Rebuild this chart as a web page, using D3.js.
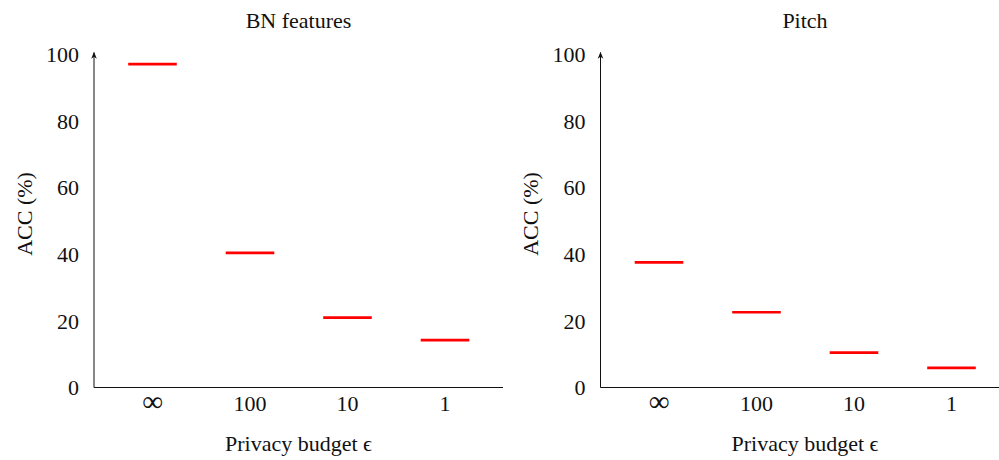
<!DOCTYPE html>
<html>
<head>
<meta charset="utf-8">
<script src="https://cdn.jsdelivr.net/npm/d3@7"></script>
<style>
  body { margin: 0; background: #fff; }
</style>
</head>
<body>
<div id="chart"></div>
<script>
// categories on x (privacy budget)
var budgets = ["\u221e", "100", "10", "1"];
var yTicks = [0, 20, 40, 60, 80, 100];
var panelTitles = ["BN features", "Pitch"];
// accuracy (%) per budget
var bnAcc = [97.1, 40.4, 21.0, 14.2];
var pitchAcc = [37.6, 22.6, 10.5, 5.9];

var width = 999, height = 460,
    serif = "'Liberation Serif', 'Times New Roman', Times, 'DejaVu Serif', 'Noto Serif', serif";

var svg = d3.select("#chart")
    .append("svg")
      .attr("width", width)
      .attr("height", height)
      .attr("font-family", serif)
      .style("font-family", serif);

svg.append("defs").append("marker")
    .attr("id", "arrow")
    .attr("viewBox", "0 0 10 10")
    .attr("refX", 9).attr("refY", 5)
    .attr("markerWidth", 7).attr("markerHeight", 7)
    .attr("markerUnits", "userSpaceOnUse")
    .attr("orient", "auto")
  .append("path")
    .attr("d", "M0,1 L10,5 L0,9 L3,5 Z")
    .style("fill", "#111");

function drawPanel(left, title, values) {
    var axisLen = 409,
        y0 = 387.5, y100 = 54.5;

    var g = svg.append("g")
        .attr("transform", "translate(" + left + ",0)")
        .style("fill", "#111");

    var x = d3.scalePoint()
        .domain(budgets)
        .range([58.5, 351]);

    var y = d3.scaleLinear()
        .domain([0, 100])
        .range([y0, y100]);

    // y axis with arrow
    g.append("line")
        .attr("x1", 0).attr("x2", 0)
        .attr("y1", y0).attr("y2", y(100) - 2)
        .style("stroke", "#111").style("stroke-width", 1)
        .attr("marker-end", "url(#arrow)");

    // x axis
    g.append("line")
        .attr("x1", 0).attr("x2", axisLen)
        .attr("y1", y0).attr("y2", y0)
        .style("stroke", "#111").style("stroke-width", 1);

    g.selectAll(".ytick")
        .data(yTicks)
        .enter()
        .append("text")
          .attr("x", -15)
          .attr("y", function(d) { return y(d); })
          .attr("dy", "0.35em")
          .attr("text-anchor", "end")
          .style("font-size", "22px")
          .text(function(d) { return d; });

    g.selectAll(".xtick")
        .data(budgets)
        .enter()
        .append("text")
          .attr("x", function(d) { return x(d); })
          .attr("y", 411)
          .attr("text-anchor", "middle")
          .style("font-size", function(d) { return d == "\u221e" ? "29px" : "22px"; })
          .text(function(d) { return d; });

    g.selectAll(".seg")
        .data(values)
        .enter()
        .append("line")
          .attr("x1", function(d, i) { return x(budgets[i]) - 24.3; })
          .attr("x2", function(d, i) { return x(budgets[i]) + 24.3; })
          .attr("y1", function(d) { return y(d); })
          .attr("y2", function(d) { return y(d); })
          .style("stroke", "#ff0000")
          .style("stroke-width", 2.7);

    g.append("text")
        .attr("x", axisLen / 2)
        .attr("y", 28)
        .attr("text-anchor", "middle")
        .style("font-size", "22px")
        .text(title);

    g.append("text")
        .attr("x", axisLen / 2)
        .attr("y", 451)
        .attr("text-anchor", "middle")
        .style("font-size", "22px")
        .text("Privacy budget \u03f5");

    g.append("text")
        .attr("transform", "translate(-70,214) rotate(-90)")
        .attr("dy", "0.35em")
        .attr("text-anchor", "middle")
        .style("font-size", "22px")
        .text("ACC (%)");
}

drawPanel(94, panelTitles[0], bnAcc);
drawPanel(600.5, panelTitles[1], pitchAcc);
</script>
</body>
</html>
